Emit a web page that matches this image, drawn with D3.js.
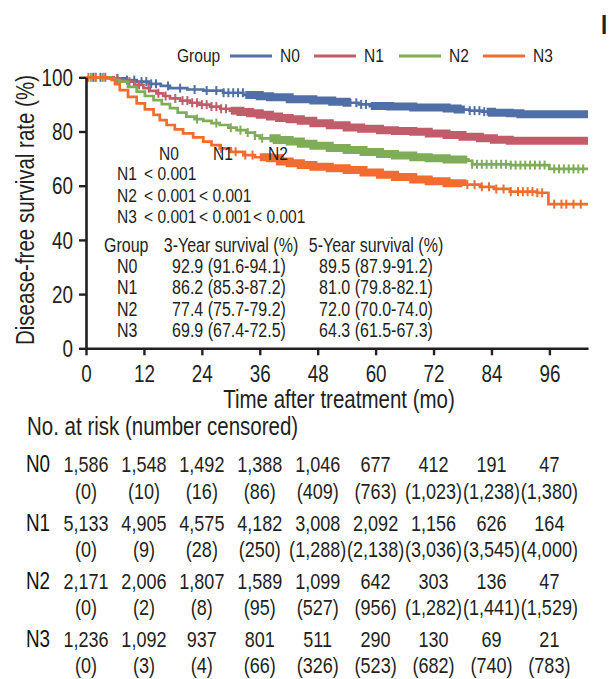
<!DOCTYPE html>
<html lang="en">
<head>
<meta charset="utf-8"/>
<title>Disease-free survival by N stage</title>
<script src="https://d3js.org/d3.v7.min.js"></script>
<style>
    body { margin: 0; background: #fff; }
    text { font-family: 'Liberation Sans', Arial, sans-serif; fill: #231f20; }
</style>
</head>
<body>
<script>
    // groups and colours
    const groups = ["N0", "N1", "N2", "N3"];
    const colors = ["#4f6fa6", "#c25c6a", "#7fac57", "#f26c2f"];

    // Kaplan-Meier steps: [month, survival %]
    const curveN0 = [[0,100],[5.7,99.6],[8,99.0],[10.5,98.4],[13,97.6],[15.5,96.8],[17.4,96.0],[21,95.5],[24.3,95.1],[28.4,94.3],[32.6,93.5],[36,93.0],[38.1,92.6],[42.2,91.9],[47.1,91.4],[51,91.0],[54,90.6],[56.5,90.0],[58.8,89.4],[63,89.2],[67.8,88.9],[74.7,88.5],[77,88.1],[79.5,87.7],[82,87.3],[84.1,86.9],[87.8,86.7],[90,86.4],[104,86.4]];
    const curveN1 = [[0,100],[5.7,99.5],[7,99.0],[8.4,98.4],[10,97.2],[11.9,96.0],[13.2,95.0],[14.6,94.1],[16,93.1],[17.4,92.2],[19.5,91.4],[21.5,90.6],[23.5,89.9],[25.7,89.2],[27.8,88.4],[29.8,87.7],[32,87.2],[34,86.7],[36,86.2],[38.1,85.5],[40,85.0],[42.2,84.5],[44.5,84.0],[47.1,83.0],[50.5,82.3],[54,81.5],[57,81.0],[60.9,80.5],[64,80.2],[67.8,79.9],[71,79.3],[74.7,78.7],[78,78.1],[81.6,77.5],[84.5,77.0],[87.8,76.6],[104,76.6]];
    const curveN2 = [[0,100],[5,99.5],[6,99.0],[7,98.4],[8.7,96.5],[10.5,94.7],[12.2,93.1],[14,91.6],[15.7,90.1],[17.4,88.6],[19,87.0],[20.8,85.5],[22.5,84.6],[24.3,83.9],[26,83.1],[27.7,82.4],[29.5,81.4],[31.2,80.5],[33.2,79.6],[35,78.5],[36,77.5],[39.5,76.9],[42.2,76.3],[44.5,75.5],[47.1,74.7],[50.5,73.9],[54,73.2],[57.5,72.4],[60.9,71.7],[64,71.1],[67.8,70.5],[71,70.1],[74.7,69.7],[79.2,69.2],[80,67.9],[88,67.6],[96,66.2],[104,66.2]];
    const curveN3 = [[0,100],[4.3,99.6],[5.3,99.0],[6,97.5],[7,95.3],[8.7,92.8],[10.5,90.4],[12.2,88.2],[14,86.1],[15.3,84.2],[16.7,82.4],[18.4,80.8],[20.1,79.3],[22.2,77.8],[24.3,76.3],[26,75.0],[27.7,73.8],[30,72.5],[32.6,71.3],[35,70.5],[38.1,70.1],[40.2,68.9],[42.2,68.3],[44.5,67.6],[47.1,67.0],[50.5,66.4],[54,65.8],[57.5,64.9],[60.9,64.0],[64,63.2],[67.8,62.3],[71,61.6],[74.7,60.9],[78,60.4],[81.6,59.6],[84.5,58.8],[87.8,57.8],[93.4,57.4],[95.8,53.2],[104,53.2]];

    // single censoring marks (months)
    const censN0 = [1.5,3,6.5,8.5,10,11.5,12.5,13.5,14.5,17,19.5,22.5,25,27,28.5,29.5,30.5,31.5,32.5,56,57,58,79.5,80.5,81.5,82.5];
    const censN1 = [2,4,6.5,9,11,13,15,16.5,18.5,20,21,22,23,24,25,26,27,28,29];
    const censN2 = [1,3.5,23,27,30,32,33.5,35,36.5,80,81,82,83,84,85,86,87,88,89,90,91,92,93,94,95,97,98,99,100,101,102,103];
    const censN3 = [0.5,2,28,31,33,34.5,79,80.5,82,83.5,85,86.5,88,89.5,90.5,91.5,92.5,93.5,94.5,97,98.5,99.5,101,102.5];
    // spans where the censoring marks merge into a solid band [from, to] months
    const denseN0 = [[33, 55], [59, 78.5], [83, 104]];
    const denseN1 = [[30, 104]];
    const denseN2 = [[38, 79]];
    const denseN3 = [[36, 78]];

    // number at risk and number censored at each month tick
    const months = [0, 12, 24, 36, 48, 60, 72, 84, 96];
    const atRiskN0 = ["1,586","1,548","1,492","1,388","1,046","677","412","191","47"];
    const censoredN0 = ["(0)","(10)","(16)","(86)","(409)","(763)","(1,023)","(1,238)","(1,380)"];
    const atRiskN1 = ["5,133","4,905","4,575","4,182","3,008","2,092","1,156","626","164"];
    const censoredN1 = ["(0)","(9)","(28)","(250)","(1,288)","(2,138)","(3,036)","(3,545)","(4,000)"];
    const atRiskN2 = ["2,171","2,006","1,807","1,589","1,099","642","303","136","47"];
    const censoredN2 = ["(0)","(2)","(8)","(95)","(527)","(956)","(1,282)","(1,441)","(1,529)"];
    const atRiskN3 = ["1,236","1,092","937","801","511","290","130","69","21"];
    const censoredN3 = ["(0)","(3)","(4)","(66)","(326)","(523)","(682)","(740)","(783)"];

    // pairwise log-rank p values (row vs column)
    const pRows = [["N1", ["< 0.001"]], ["N2", ["< 0.001", "< 0.001"]], ["N3", ["< 0.001", "< 0.001", "< 0.001"]]];
    // 3- and 5-year survival
    const surv3 = ["92.9 (91.6-94.1)", "86.2 (85.3-87.2)", "77.4 (75.7-79.2)", "69.9 (67.4-72.5)"];
    const surv5 = ["89.5 (87.9-91.2)", "81.0 (79.8-82.1)", "72.0 (70.0-74.0)", "64.3 (61.5-67.3)"];

    const curves = [curveN0, curveN1, curveN2, curveN3];
    const censors = [censN0, censN1, censN2, censN3];
    const dense = [denseN0, denseN1, denseN2, denseN3];
    const atRisk = [atRiskN0, atRiskN1, atRiskN2, atRiskN3];
    const censored = [censoredN0, censoredN1, censoredN2, censoredN3];

    const W = 611, H = 679;
    const SX = 0.82; // squeeze the sans font into a narrow face
    const svg = d3.select("body").append("svg").attr("width", W).attr("height", H);

    const x = d3.scaleLinear().domain([0, 104]).range([86, 588]);
    const y = d3.scaleLinear().domain([0, 100]).range([348.3, 77.3]);

    // narrow text at (tx, ty)
    function txt(g, tx, ty, s, size, anchor) {
        return g.append("text")
            .attr("transform", `translate(${tx},${ty}) scale(${SX},1)`)
            .attr("font-size", size)
            .attr("text-anchor", anchor || "start")
            .text(s);
    }

    // step value at time t
    function survAt(curve, t) {
        let s = curve[0][1];
        for (const p of curve) { if (p[0] <= t) s = p[1]; else break; }
        return s;
    }

    // part of a curve between a and b
    function slice(curve, a, b) {
        const inner = curve.filter(p => p[0] > a && p[0] < b);
        return [[a, survAt(curve, a)], ...inner, [b, survAt(curve, b)]];
    }

    // curves
    const line = d3.line().x(d => x(d[0])).y(d => y(d[1])).curve(d3.curveStepAfter);
    curves.forEach((c, i) => {
        svg.append("path").datum(c)
            .attr("d", line)
            .attr("fill", "none")
            .attr("stroke", colors[i])
            .attr("stroke-width", 2.7);
        svg.append("g").selectAll("path").data(dense[i]).join("path")
            .attr("d", d => line(slice(c, d[0], d[1])))
            .attr("fill", "none")
            .attr("stroke", colors[i])
            .attr("stroke-width", 8);
        svg.append("g").selectAll("line").data(censors[i]).join("line")
            .attr("x1", d => x(d)).attr("x2", d => x(d))
            .attr("y1", d => y(survAt(c, d)) - 4.5)
            .attr("y2", d => y(survAt(c, d)) + 4.5)
            .attr("stroke", colors[i])
            .attr("stroke-width", 2);
    });

    // axes
    const xAxis = svg.append("g").attr("transform", "translate(0,348.3)")
        .call(d3.axisBottom(x).tickValues(months).tickSize(7).tickSizeOuter(0));
    const yAxis = svg.append("g").attr("transform", "translate(86,0)")
        .call(d3.axisLeft(y).tickValues([0, 20, 40, 60, 80, 100]).tickSize(7).tickSizeOuter(0));
    [xAxis, yAxis].forEach(a => {
        a.select(".domain").attr("stroke", "#231f20").attr("stroke-width", 2.6);
        a.selectAll(".tick line").attr("stroke", "#231f20").attr("stroke-width", 2.4);
        a.selectAll(".tick text").attr("font-size", 23).attr("font-family", null).attr("fill", "#231f20");
    });
    xAxis.selectAll(".tick text").attr("x", 0).attr("y", 0).attr("dy", 0)
        .attr("transform", `translate(0,33.5) scale(${SX},1)`);
    yAxis.selectAll(".tick text").attr("x", 0).attr("dy", "0.36em")
        .attr("transform", `translate(-13,0) scale(${SX},1)`);

    svg.append("text")
        .attr("transform", `translate(34,210) rotate(-90) scale(${SX},1)`)
        .attr("text-anchor", "middle").attr("font-size", 25)
        .text("Disease-free survival rate (%)");
    txt(svg, 339, 408, "Time after treatment (mo)", 25, "middle");

    // legend
    const legend = svg.append("g");
    txt(legend, 177, 62, "Group", 19);
    const legX = [230, 314, 399, 483];
    groups.forEach((g, i) => {
        legend.append("line").attr("x1", legX[i]).attr("x2", legX[i] + 42)
            .attr("y1", 56).attr("y2", 56)
            .attr("stroke", colors[i]).attr("stroke-width", 3);
        txt(legend, legX[i] + 50, 62, g, 19);
    });

    // panel letter at the top right
    txt(svg, 601, 34, "I", 27).attr("font-weight", "bold");

    // p value block
    const pv = svg.append("g");
    const pColX = [169, 223, 278];
    ["N0", "N1", "N2"].forEach((g, i) => txt(pv, pColX[i], 160, g, 19, "middle"));
    const pStartX = [144, 199, 253];
    pRows.forEach((r, i) => {
        const yy = 180 + i * 21.7;
        txt(pv, 117, yy, r[0], 19);
        r[1].forEach((p, j) => txt(pv, pStartX[j], yy, p, 19));
    });

    // survival table
    const st = svg.append("g");
    txt(st, 104, 251.7, "Group", 19.5);
    txt(st, 231, 251.7, "3-Year survival (%)", 19.5, "middle");
    txt(st, 376, 251.7, "5-Year survival (%)", 19.5, "middle");
    groups.forEach((g, i) => {
        const yy = 272.5 + i * 21.5;
        txt(st, 117, yy, g, 19.5);
        txt(st, 229, yy, surv3[i], 19.5, "middle");
        txt(st, 376, yy, surv5[i], 19.5, "middle");
    });

    // number at risk table
    txt(svg, 27, 435, "No. at risk (number censored)", 25);
    const risk = svg.append("g");
    groups.forEach((g, i) => {
        const yy = 472.3 + i * 58.2;
        txt(risk, 26, yy, g, 23).style("fill", "#111");
        risk.append("g").selectAll("text").data(months).join("text")
            .attr("transform", d => `translate(${x(d)},${yy}) scale(${SX},1)`)
            .attr("font-size", 22).attr("text-anchor", "middle")
            .text((d, j) => atRisk[i][j]);
        risk.append("g").selectAll("text").data(months).join("text")
            .attr("transform", d => `translate(${x(d)},${yy + 26.5}) scale(${SX},1)`)
            .attr("font-size", 22).attr("text-anchor", "middle")
            .text((d, j) => censored[i][j]);
    });
</script>
</body>
</html>
